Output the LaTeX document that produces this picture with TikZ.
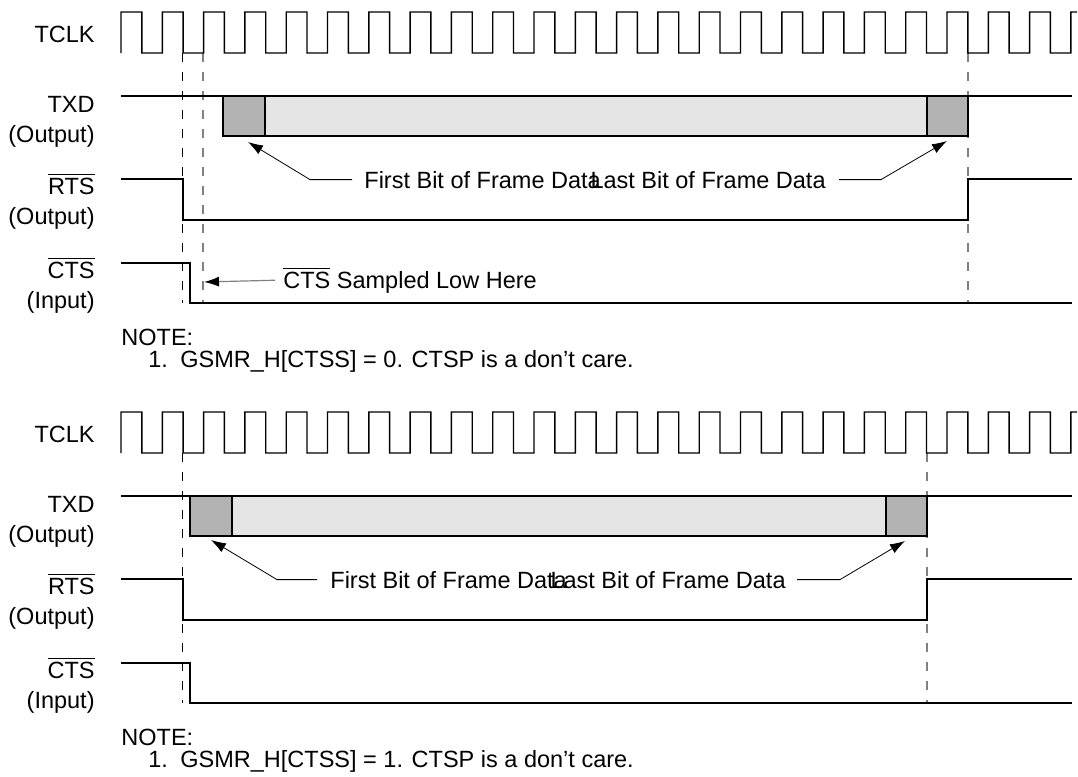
\documentclass[tikz,border=0pt]{standalone}
\usepackage{fontspec}
\setmainfont{Liberation Sans}
\usetikzlibrary{arrows.meta}
\definecolor{bitdark}{HTML}{B3B3B3}
\definecolor{bitlight}{HTML}{E5E5E5}
\definecolor{guidegrey}{HTML}{808080}
\begin{document}
\begin{tikzpicture}[x=0.5pt,y=-0.5pt,
  sig/.style={line width=0.7pt, line join=miter},
  lbl/.style={inner sep=0pt, font=\fontsize{11.75}{14}\selectfont},
  guideblk/.style={black, line width=0.45pt, dash pattern=on 4.5pt off 5pt},
  guidegry/.style={guidegrey, line width=0.7pt, dash pattern=on 4.5pt off 5pt},
  lead/.style={line width=0.4pt, -{Latex[length=7.5pt,width=5pt]}},
  ctslead/.style={guidegrey, line width=0.6pt, -{Latex[length=7.5pt,width=5pt,color=black]}},
]
\useasboundingbox (0,0) rectangle (1078,777);

% ================= TOP DIAGRAM =================
% guide lines
\draw[guideblk] (182.7,53) -- (182.7,303);
\draw[guidegry] (203,53) -- (203,303);
\draw[guidegry] (968,53) -- (968,303);

% labels
\node[lbl, anchor=base east] (tclkA) at (95,42) {TCLK};
\node[lbl, anchor=base east] (txdA) at (95,112) {TXD};
\node[lbl, anchor=base east] (txdoA) at (95,142) {(Output)};
\node[lbl, anchor=base east] (rtsA) at (95,194) {$\overline{\hbox{RTS}}$};
\node[lbl, anchor=base east] (rtsoA) at (95,224) {(Output)};
\node[lbl, anchor=base east] (ctsA) at (95,278) {$\overline{\hbox{CTS}}$};
\node[lbl, anchor=base east] (ctsiA) at (95,308) {(Input)};

% clock
\draw[sig] (121,53) \foreach \n in {0,...,22}{ -- ({121+41.3*\n},12) -- ({141.8+41.3*\n},12) -- ({141.8+41.3*\n},53) -- ({162.3+41.3*\n},53) } -- (1070.9,12) -- (1077,12);

% TXD
\fill[bitlight] (223,96) rectangle (968,136);
\fill[bitdark] (223,96) rectangle (265,136);
\fill[bitdark] (927,96) rectangle (968,136);
\draw[sig] (121,96) -- (1072,96);
\draw[sig] (223,96) rectangle (968,136);
\draw[sig] (265,96) -- (265,136);
\draw[sig] (927,96) -- (927,136);

% RTS
\draw[sig] (121,179) -- (183,179) -- (183,220) -- (968,220) -- (968,179) -- (1072,179);
% CTS
\draw[sig] (121,263) -- (190,263) -- (190,303) -- (1072,303);

% annotations
\node[lbl, anchor=base west] (firstA) at (364,188) {First Bit of Frame Data};
\node[lbl, anchor=base east] (lastA) at (826,188) {Last Bit of Frame Data};
\coordinate (firsttipA) at (248,142);
\coordinate (lasttipA) at (947,141);
\draw[lead] ([xshift=-6pt]firstA.west) -- ([xshift=-27pt]firstA.west) -- (firsttipA);
\draw[lead] ([xshift=6.5pt]lastA.east) -- ([xshift=27.5pt]lastA.east) -- (lasttipA);

\node[lbl, anchor=base west] (sampA) at (283,288) {$\overline{\hbox{CTS}}$ Sampled Low Here};
\coordinate (samptipA) at (204,282);
\draw[ctslead] ([xshift=-4pt]sampA.west) -- (samptipA);

\node[lbl, anchor=base west] (noteA) at (121,345) {NOTE:};
\node[lbl, anchor=base west] (noteAi) at (148,367) {1.\hspace{6.2pt}GSMR\_H[CTSS] = 0. CTSP is a don’t care.};

% ================= BOTTOM DIAGRAM =================
\draw[guideblk] (182.7,453) -- (182.7,703);
\draw[guidegry] (927,453) -- (927,703);

\node[lbl, anchor=base east] (tclkB) at (95,442) {TCLK};
\node[lbl, anchor=base east] (txdB) at (95,512) {TXD};
\node[lbl, anchor=base east] (txdoB) at (95,542) {(Output)};
\node[lbl, anchor=base east] (rtsB) at (95,594) {$\overline{\hbox{RTS}}$};
\node[lbl, anchor=base east] (rtsoB) at (95,624) {(Output)};
\node[lbl, anchor=base east] (ctsB) at (95,678) {$\overline{\hbox{CTS}}$};
\node[lbl, anchor=base east] (ctsiB) at (95,708) {(Input)};

\draw[sig] (121,453) \foreach \n in {0,...,22}{ -- ({121+41.3*\n},412) -- ({141.8+41.3*\n},412) -- ({141.8+41.3*\n},453) -- ({162.3+41.3*\n},453) } -- (1070.9,412) -- (1077,412);

\fill[bitlight] (190,496) rectangle (927,536);
\fill[bitdark] (190,496) rectangle (232,536);
\fill[bitdark] (886,496) rectangle (927,536);
\draw[sig] (121,496) -- (1072,496);
\draw[sig] (190,496) rectangle (927,536);
\draw[sig] (232,496) -- (232,536);
\draw[sig] (886,496) -- (886,536);

\draw[sig] (121,579) -- (183,579) -- (183,620) -- (927,620) -- (927,579) -- (1072,579);
\draw[sig] (121,663) -- (190,663) -- (190,703) -- (1072,703);

\node[lbl, anchor=base west] (firstB) at (330,588) {First Bit of Frame Data};
\node[lbl, anchor=base east] (lastB) at (786,588) {Last Bit of Frame Data};
\coordinate (firsttipB) at (211,540);
\coordinate (lasttipB) at (905,541);
\draw[lead] ([xshift=-6.5pt]firstB.west) -- ([xshift=-26.5pt]firstB.west) -- (firsttipB);
\draw[lead] ([xshift=5.5pt]lastB.east) -- ([xshift=27pt]lastB.east) -- (lasttipB);

\node[lbl, anchor=base west] (noteB) at (121,745) {NOTE:};
\node[lbl, anchor=base west] (noteBi) at (148,767) {1.\hspace{6.2pt}GSMR\_H[CTSS] = 1. CTSP is a don’t care.};
\end{tikzpicture}
\end{document}
